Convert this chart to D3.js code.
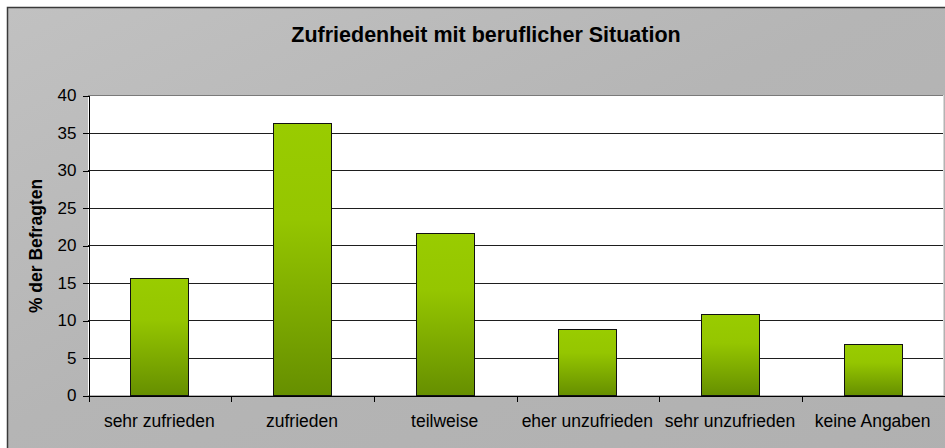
<!DOCTYPE html>
<html>
<head>
<meta charset="utf-8">
<script src="https://cdn.jsdelivr.net/npm/d3@7"></script>
<style>
  html, body { margin: 0; padding: 0; background: #fff; }
  svg { display: block; font-family: Arial, "Liberation Sans", sans-serif; }
</style>
</head>
<body>
<svg id="chart" width="945" height="448"></svg>
<script>
// Zufriedenheit mit beruflicher Situation – Anteile in Prozent
const categories = ["sehr zufrieden", "zufrieden", "teilweise", "eher unzufrieden", "sehr unzufrieden", "keine Angaben"];
const values = [15.6, 36.3, 21.6, 8.8, 10.8, 6.8];
const yTicks = [0, 5, 10, 15, 20, 25, 30, 35, 40];
const titleText = "Zufriedenheit mit beruflicher Situation";
const yLabelText = "% der Befragten";

const svg = d3.select("#chart");
const W = 945, H = 448;
const plot = { left: 88, right: 944, top: 95, bottom: 395 };

const defs = svg.append("defs");
const bg = defs.append("linearGradient").attr("id", "bgGrad")
  .attr("x1", "0").attr("y1", "0").attr("x2", "1").attr("y2", "1");
bg.append("stop").attr("offset", "0").attr("stop-color", "#c1c1c1");
bg.append("stop").attr("offset", "0.45").attr("stop-color", "#b5b5b5");
bg.append("stop").attr("offset", "1").attr("stop-color", "#b0b0b0");

const barGrad = defs.append("linearGradient").attr("id", "barGrad")
  .attr("x1", "0").attr("y1", "0").attr("x2", "0").attr("y2", "1");
barGrad.append("stop").attr("offset", "0").attr("stop-color", "#99cc00");
barGrad.append("stop").attr("offset", "0.35").attr("stop-color", "#95c600");
barGrad.append("stop").attr("offset", "1").attr("stop-color", "#668f00");

// chart area with frame (continues past the right and bottom edge)
svg.append("rect")
  .attr("x", 7.5).attr("y", 7.5)
  .attr("width", W + 20).attr("height", H + 20)
  .attr("fill", "url(#bgGrad)")
  .attr("stroke", "#3a3a3a").attr("stroke-width", 1.5);

// plot area
svg.append("rect")
  .attr("x", plot.left).attr("y", plot.top)
  .attr("width", plot.right - plot.left).attr("height", plot.bottom - plot.top)
  .attr("fill", "#ffffff");

const x = d3.scaleBand()
  .domain(categories)
  .range([plot.left, plot.right])
  .paddingInner(0.593)
  .paddingOuter(0.2965);

const y = d3.scaleLinear()
  .domain([0, 40])
  .range([plot.bottom, plot.top]);

// horizontal gridlines
svg.append("g")
  .selectAll("line")
  .data(yTicks.filter(d => d > 0))
  .join("line")
  .attr("x1", plot.left).attr("x2", plot.right)
  .attr("y1", d => Math.round(y(d)) + 0.5)
  .attr("y2", d => Math.round(y(d)) + 0.5)
  .attr("stroke", d => d === 40 ? "#7a7a7a" : "#1e1e1e")
  .attr("stroke-width", 1)
  .attr("shape-rendering", "crispEdges");

// right edge of the plot area
svg.append("line")
  .attr("x1", plot.right - 0.5).attr("x2", plot.right - 0.5)
  .attr("y1", plot.top).attr("y2", plot.bottom)
  .attr("stroke", "#d8d8d8");

// bars
svg.append("g")
  .selectAll("rect")
  .data(values)
  .join("rect")
  .attr("x", (d, i) => Math.round(x(categories[i])) + 0.5)
  .attr("y", d => Math.round(y(d)) + 0.5)
  .attr("width", Math.round(x.bandwidth()))
  .attr("height", d => Math.round(y(0)) - Math.round(y(d)))
  .attr("fill", "url(#barGrad)")
  .attr("stroke", "#111")
  .attr("stroke-width", 1)
  .attr("shape-rendering", "crispEdges");

// y axis
const yAxis = svg.append("g")
  .attr("transform", `translate(${plot.left + 0.5},0.5)`)
  .call(d3.axisLeft(y).tickValues(yTicks).tickSize(6).tickSizeOuter(0).tickPadding(6));
yAxis.select(".domain").attr("stroke", "#000").attr("shape-rendering", "crispEdges");
yAxis.selectAll(".tick line").attr("stroke", "#000").attr("shape-rendering", "crispEdges");
yAxis.selectAll(".tick text")
  .attr("font-size", 17).attr("font-family", "Arial, 'Liberation Sans', sans-serif")
  .attr("fill", "#000");

// x axis: boundary ticks between categories
const xb = d3.scaleLinear().domain([0, categories.length]).range([plot.left, plot.right]);
const xAxis = svg.append("g")
  .attr("transform", `translate(0.5,${plot.bottom + 0.5})`)
  .call(d3.axisBottom(xb).ticks(categories.length).tickFormat("").tickSize(6).tickSizeOuter(0));
xAxis.select(".domain").attr("stroke", "#000").attr("shape-rendering", "crispEdges");
xAxis.selectAll(".tick line").attr("stroke", "#000").attr("shape-rendering", "crispEdges");

// category labels
svg.append("g")
  .selectAll("text")
  .data(categories)
  .join("text")
  .attr("x", d => x(d) + x.bandwidth() / 2)
  .attr("y", 427)
  .attr("text-anchor", "middle")
  .attr("font-size", 17.5)
  .attr("fill", "#000")
  .text(d => d);

// title
svg.append("text")
  .attr("x", 486).attr("y", 41.5)
  .attr("text-anchor", "middle")
  .attr("font-size", 21.5).attr("font-weight", "bold")
  .attr("fill", "#000")
  .text(titleText);

// y axis title
svg.append("text")
  .attr("transform", `translate(42,246) rotate(-90)`)
  .attr("text-anchor", "middle")
  .attr("font-size", 17.5).attr("font-weight", "bold")
  .attr("fill", "#000")
  .text(yLabelText);
</script>
</body>
</html>
